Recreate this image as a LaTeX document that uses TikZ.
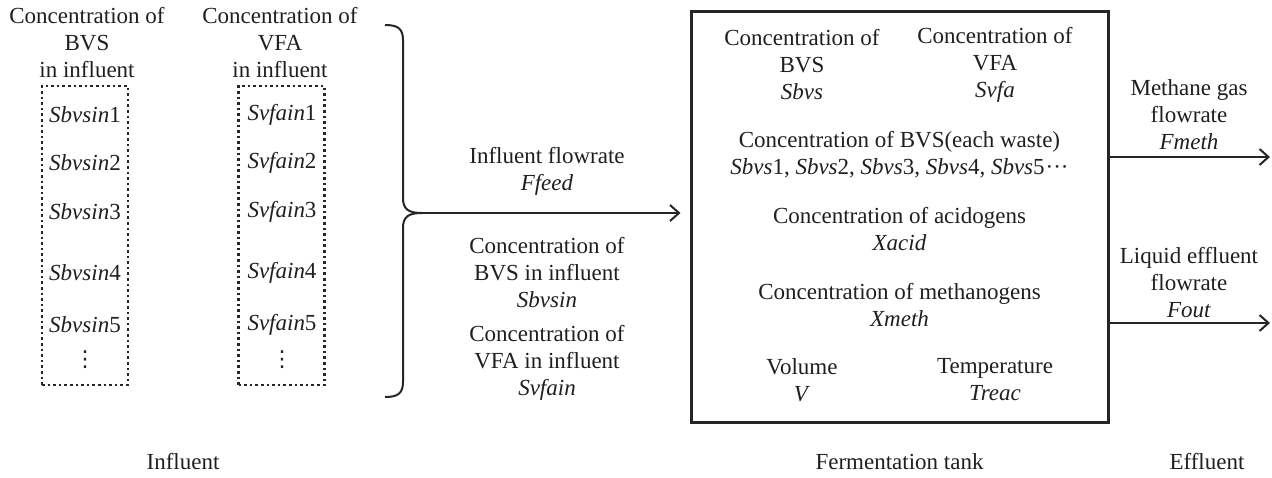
\documentclass[tikz,border=0pt]{standalone}
\usepackage{fontspec}
\setmainfont{Liberation Serif}
\newfontfamily\symfont{DejaVu Sans}
\usetikzlibrary{arrows.meta}
\begin{document}
\begin{tikzpicture}[x=1pt,y=-1pt,
  txt/.style={align=center, font=\fontsize{23}{27}\selectfont, text=black!88, inner sep=0pt},
  vdotstyle/.style={anchor=base, font=\symfont\fontsize{22}{22}\selectfont, text=black!88, inner sep=0pt},
  conn/.style={line width=2pt, -{Straight Barb[length=9pt,width=16pt]}, draw=black!85},
  bracestyle/.style={line width=2pt, draw=black!85},
  dotbox/.style={draw=black!85, line width=2.6pt, dash pattern=on 2.6pt off 3pt, minimum width=86pt, minimum height=299pt, inner sep=0pt},
  tankbox/.style={draw=black!85, line width=3pt, minimum width=417pt, minimum height=411pt, inner sep=0pt}]
\useasboundingbox (0,0) rectangle (1272,477);

% Influent side
\node[txt] (hbvs) at (87,43) {Concentration of\\BVS\\in influent};
\node[txt] (hvfa) at (280,43) {Concentration of\\VFA\\in influent};
\node[dotbox] (boxbvs) at (85,235.5) {};
\node[dotbox] (boxvfa) at (281.5,235.5) {};

\node[txt] (b1) at (85,115) {\textit{Sbvsin}1};
\node[txt] (b2) at (85,163) {\textit{Sbvsin}2};
\node[txt] (b3) at (85,212) {\textit{Sbvsin}3};
\node[txt] (b4) at (85,273) {\textit{Sbvsin}4};
\node[txt] (b5) at (85,325) {\textit{Sbvsin}5};
\node[vdotstyle] (bd) at (85,366) {⋮};

\node[txt] (v1) at (282,115) {\textit{Svfain}1};
\node[txt] (v2) at (282,163) {\textit{Svfain}2};
\node[txt] (v3) at (282,212) {\textit{Svfain}3};
\node[txt] (v4) at (282,273) {\textit{Svfain}4};
\node[txt] (v5) at (282,325) {\textit{Svfain}5};
\node[vdotstyle] (vd) at (282,366) {⋮};

% Brace
\coordinate (btip) at (422,213);
\draw[bracestyle] (385,25) .. controls (397,25) and (403,28) .. (403,40) -- (403,198) .. controls (403,209) and (408,213) .. (btip);
\draw[bracestyle] (btip) .. controls (408,213) and (403,217) .. (403,228) -- (403,382) .. controls (403,394) and (397,397) .. (385,397);

% Middle labels
\node[txt] (ffeed) at (547,171.5) {Influent flowrate\\\textit{Ffeed}};
\node[txt] (sbvsin) at (547,273) {Concentration of\\BVS in influent\\\textit{Sbvsin}};
\node[txt] (svfain) at (547,363) {Concentration of\\VFA in influent\\\textit{Svfain}};

% Tank
\node[tankbox] (tank) at (899.5,216.5) {};
\node[txt] (tbvs) at (802,65) {Concentration of\\BVS\\\textit{Sbvs}};
\node[txt] (tvfa) at (995,65) {Concentration of\\VFA\\\textit{Svfa}};
\node[txt] (teach) at (899.5,154.5) {Concentration of BVS(each waste)\\\textit{Sbvs}1, \textit{Sbvs}2, \textit{Sbvs}3, \textit{Sbvs}4, \textit{Sbvs}5\kern1pt···};
\node[txt] (tacid) at (899.5,229) {Concentration of acidogens\\\textit{Xacid}};
\node[txt] (tmeth) at (899.5,305) {Concentration of methanogens\\\textit{Xmeth}};
\node[txt] (tvol) at (802,380) {Volume\\\textit{V}};
\node[txt] (ttemp) at (995,380) {Temperature\\\textit{Treac}};

% Feed arrow
\draw[conn, shorten >=9pt] (btip) -- (tank.west |- btip);

% Effluent
\coordinate (methend) at (1270,157);
\coordinate (outend) at (1270,323);
\draw[conn] (tank.east |- methend) -- (methend);
\draw[conn] (tank.east |- outend) -- (outend);
\node[txt] (lmeth) at (1189,115) {Methane gas\\flowrate\\\textit{Fmeth}};
\node[txt] (lout) at (1189,283) {Liquid effluent\\flowrate\\\textit{Fout}};

% Bottom labels
\node[txt] (linf) at (183,462) {Influent};
\node[txt] (ltank) at (899.5,462) {Fermentation tank};
\node[txt] (leff) at (1207,462) {Effluent};
\end{tikzpicture}
\end{document}
